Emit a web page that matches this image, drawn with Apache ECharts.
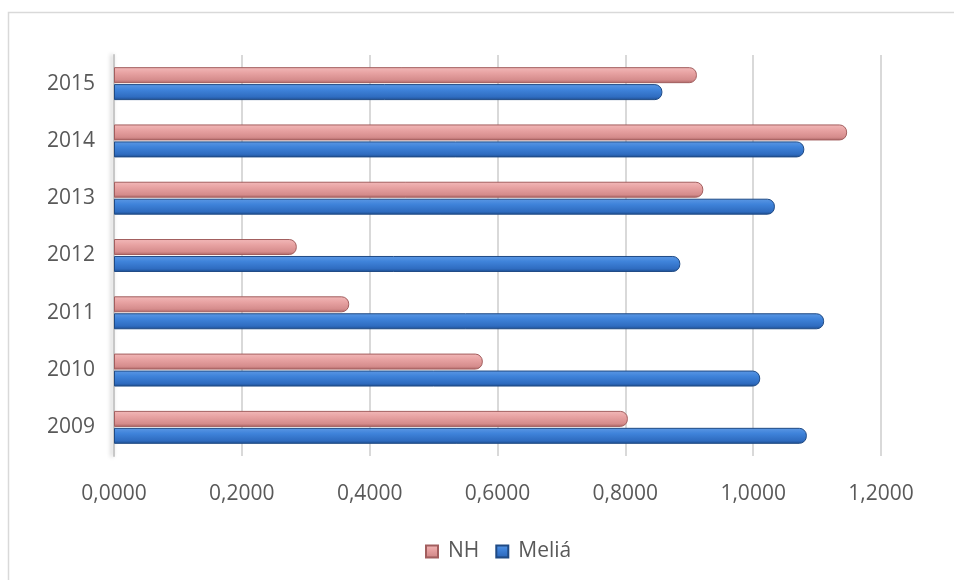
<!DOCTYPE html>
<html>
<head>
<meta charset="utf-8">
<script src="https://cdn.jsdelivr.net/npm/echarts@6/dist/echarts.min.js"></script>
<style>
html,body{margin:0;padding:0;background:#fff;}
#chart{width:954px;height:580px;}
</style>
</head>
<body>
<div id="chart"></div>
<script>
var years = ['2009', '2010', '2011', '2012', '2013', '2014', '2015'];
var nhValues = [0.804, 0.577, 0.368, 0.286, 0.922, 1.147, 0.912];
var meliaValues = [1.084, 1.011, 1.111, 0.886, 1.034, 1.080, 0.858];
var xTicks = [0, 0.2, 0.4, 0.6, 0.8, 1.0, 1.2];

var FONT = '"Open Sans", "Liberation Sans", sans-serif';
var TXT = '#595959';

var nhGrad = new echarts.graphic.LinearGradient(0, 0, 0, 1, [
  {offset: 0, color: '#F2B9B9'},
  {offset: 0.35, color: '#E8A3A3'},
  {offset: 0.8, color: '#D58C8C'},
  {offset: 1, color: '#A96464'}
]);
var meliaGrad = new echarts.graphic.LinearGradient(0, 0, 0, 1, [
  {offset: 0, color: '#5C98E4'},
  {offset: 0.35, color: '#3F83DA'},
  {offset: 0.8, color: '#2F6CC0'},
  {offset: 1, color: '#1E4D8F'}
]);

var chart = echarts.init(document.getElementById('chart'));
chart.setOption({
  animation: false,
  backgroundColor: '#fff',
  graphic: [{
    type: 'rect',
    shape: {x: 8.5, y: 12.5, width: 960, height: 600},
    style: {fill: 'none', stroke: '#D9D9D9', lineWidth: 1.5},
    silent: true
  }],
  grid: {left: 114, right: 73, top: 55, bottom: 124},
  legend: {
    data: ['NH', 'Meliá'],
    left: 420,
    top: 536,
    icon: 'rect',
    itemWidth: 12,
    itemHeight: 12,
    itemGap: 16,
    textStyle: {fontFamily: FONT, fontSize: 21, color: TXT, padding: [0, 0, 0, 5]}
  },
  xAxis: {
    type: 'value',
    min: 0,
    max: 1.2,
    interval: 0.2,
    axisLine: {show: false},
    axisTick: {show: false},
    splitLine: {show: true, lineStyle: {color: '#D9D9D9', width: 2}},
    axisLabel: {
      margin: 28,
      fontFamily: FONT,
      fontSize: 21,
      color: TXT,
      formatter: function (v) { return v.toFixed(4).replace('.', ','); }
    }
  },
  yAxis: {
    type: 'category',
    data: years,
    axisTick: {show: false},
    axisLine: {show: true, lineStyle: {color: '#C8C8C8', width: 2, shadowColor: 'rgba(0,0,0,0.25)', shadowBlur: 4, shadowOffsetX: -2}},
    axisLabel: {
      margin: 19,
      fontFamily: FONT,
      fontSize: 21,
      color: TXT,
      padding: [8, 0, 0, 0]
    }
  },
  series: [
    {
      name: 'NH',
      type: 'bar',
      data: nhValues,
      barWidth: 16,
      barGap: '6%',
      itemStyle: {color: nhGrad, borderColor: '#A25E5E', borderWidth: 1, borderRadius: [0, 7, 7, 0]}
    },
    {
      name: 'Meliá',
      type: 'bar',
      data: meliaValues,
      barWidth: 16,
      barGap: '6%',
      itemStyle: {color: meliaGrad, borderColor: '#1F4A84', borderWidth: 1, borderRadius: [0, 7, 7, 0]}
    }
  ]
});
</script>
</body>
</html>
